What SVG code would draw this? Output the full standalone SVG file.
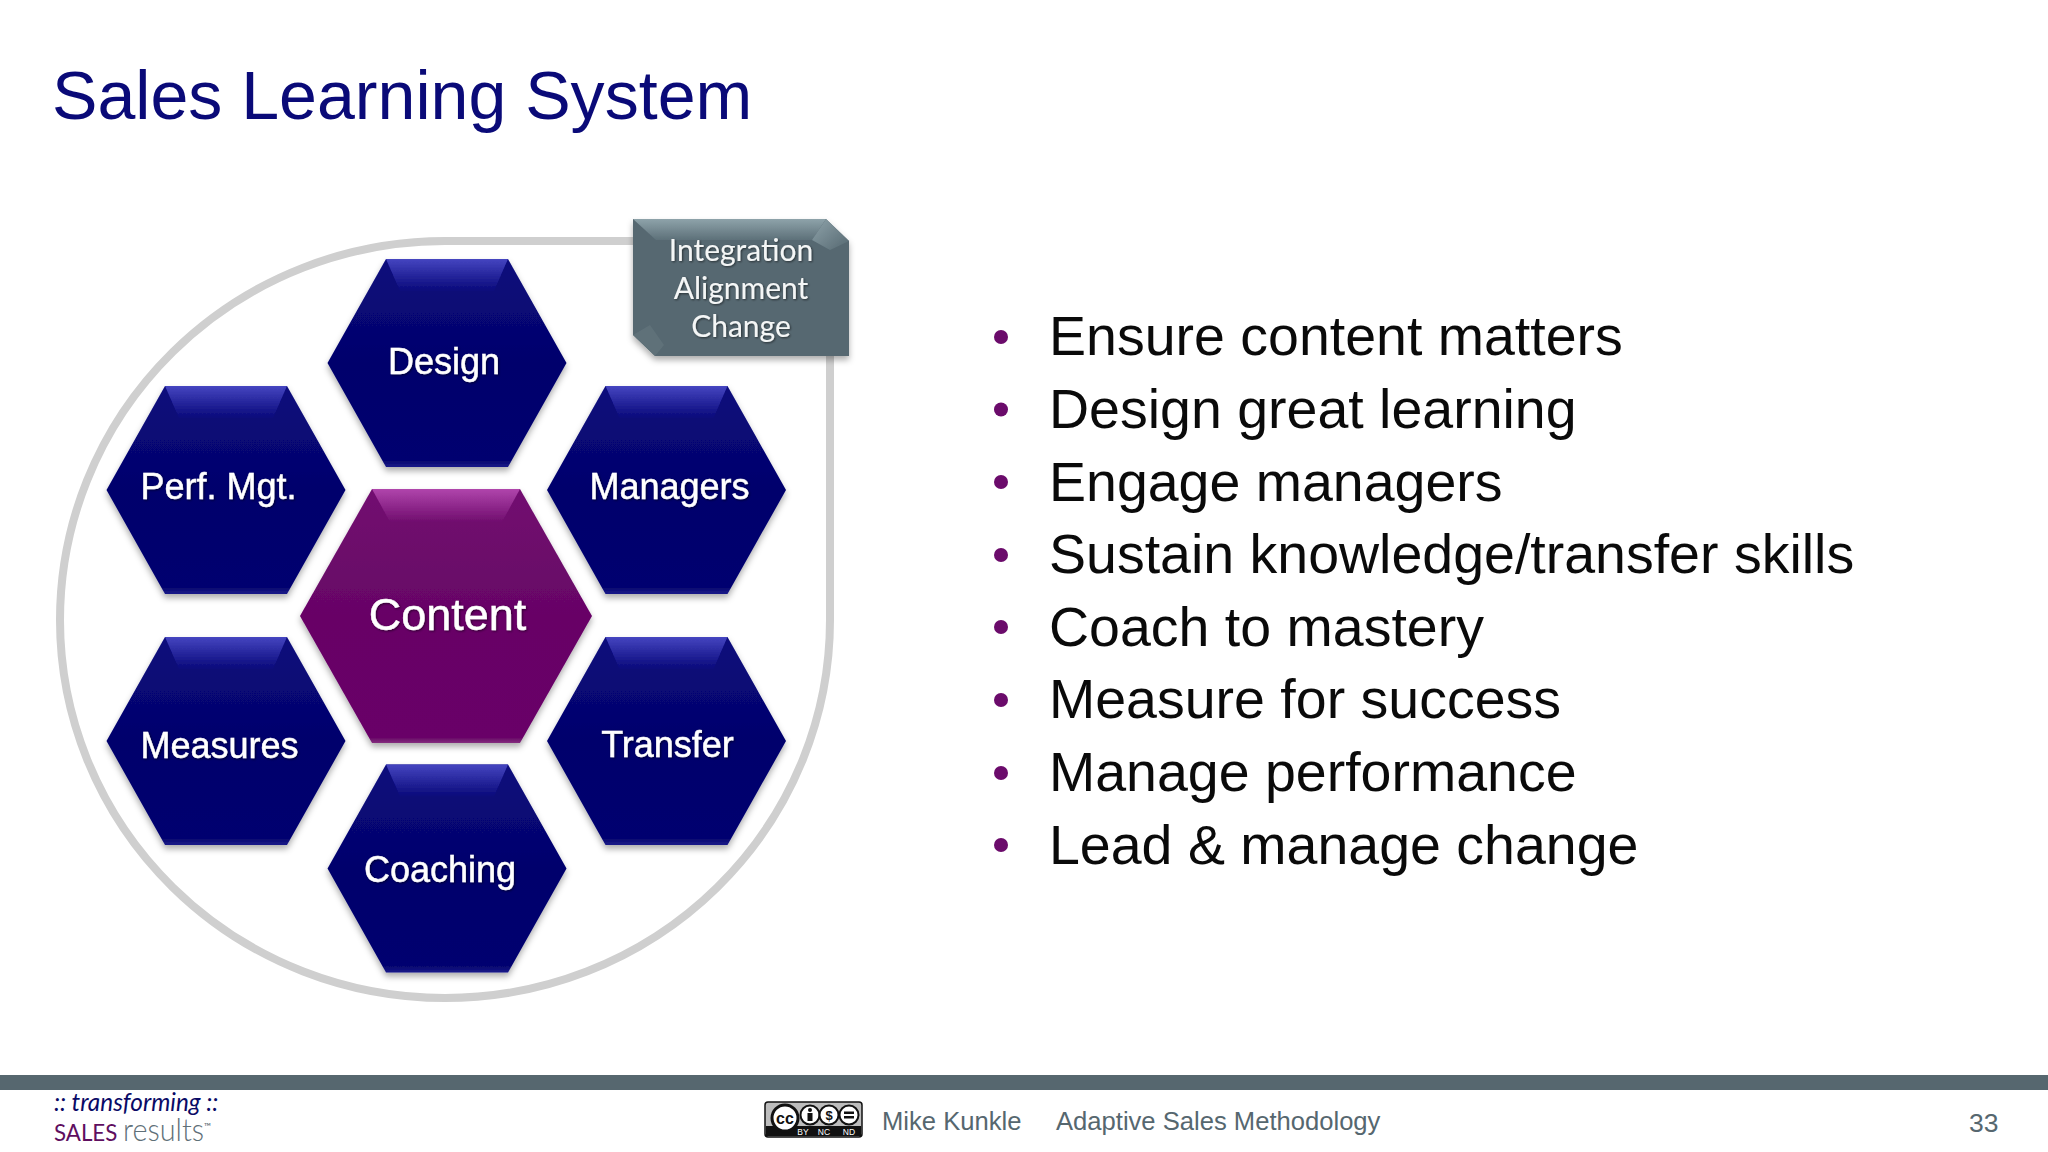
<svg xmlns="http://www.w3.org/2000/svg" xmlns:xlink="http://www.w3.org/1999/xlink" width="2048" height="1152" viewBox="0 0 2048 1152">
<style>
text{font-family:"Liberation Sans",Arial,sans-serif}
.hl{fill:#fff;stroke:#fff;stroke-width:.4px;font-size:36px;text-anchor:middle}
.bul{fill:#0a0a0a;font-size:55.5px}
.dot{fill:#6b0b6b}
.foot{fill:#56676f;font-size:25.6px}
.box{fill:#f4f6f6;font-family:Lato,"Open Sans",sans-serif;font-size:30px;text-anchor:middle}
</style>
<defs>
<linearGradient id="navyBody" x1="0" y1="0" x2="0" y2="1"><stop offset="0" stop-color="#0a0a7c"/><stop offset=".5" stop-color="#04046c"/><stop offset=".97" stop-color="#06066f"/><stop offset="1" stop-color="#1a1a8a"/></linearGradient>
<linearGradient id="navyTop" x1="0" y1="0" x2="0" y2="1"><stop offset="0" stop-color="#4545c0"/><stop offset="1" stop-color="#09097a"/></linearGradient>
<linearGradient id="plumBody" x1="0" y1="0" x2="0" y2="1"><stop offset="0" stop-color="#720e70"/><stop offset=".5" stop-color="#670566"/><stop offset=".98" stop-color="#690667"/><stop offset="1" stop-color="#85307f"/></linearGradient>
<linearGradient id="plumTop" x1="0" y1="0" x2="0" y2="1"><stop offset="0" stop-color="#b045ac"/><stop offset="1" stop-color="#700d6e"/></linearGradient>
<linearGradient id="slateTop" x1="0" y1="0" x2="0" y2="1"><stop offset="0" stop-color="#8ea3aa"/><stop offset="1" stop-color="#5d7079"/></linearGradient>
<linearGradient id="slateRight" x1="0" y1="0" x2="1" y2="1"><stop offset="0" stop-color="#8ea3aa"/><stop offset="1" stop-color="#566871"/></linearGradient>
<filter id="sh" x="-15%" y="-15%" width="130%" height="130%"><feDropShadow dx="0" dy="4" stdDeviation="3" flood-color="#000" flood-opacity=".32"/></filter>
<filter id="ts" x="-10%" y="-20%" width="120%" height="140%"><feDropShadow dx="1" dy="1" stdDeviation=".8" flood-color="#000" flood-opacity=".55"/></filter>
<g id="hexN">
<polygon points="-119.5,0 -61,-104 61,-104 119.5,0 61,104 -61,104" fill="url(#navyBody)"/>
<polygon points="-61,-104 61,-104 47,-72 -47,-72" fill="url(#navyTop)"/>
</g>
<g id="hexP">
<polygon points="-146,0 -74,-127 74,-127 146,0 74,127 -74,127" fill="url(#plumBody)"/>
<polygon points="-74,-127 74,-127 56,-94 -56,-94" fill="url(#plumTop)"/>
</g>
</defs>
<rect width="2048" height="1152" fill="#fff"/>
<text x="52" y="119" font-size="68.1" fill="#0a0a78">Sales Learning System</text>

<g id="connectors">
<path d="M 60 620 A 385 379 0 0 1 445 241 H 830 V 620 A 385 378 0 0 1 445 998 A 385 378 0 0 1 60 620 Z" fill="none" stroke="#cfcfcf" stroke-width="8"/>
</g>

<g id="node-design" filter="url(#sh)"><use href="#hexN" transform="translate(447,363)"/><text class="hl" x="444" y="374" filter="url(#ts)">Design</text></g>
<g id="node-perf" filter="url(#sh)"><use href="#hexN" transform="translate(226,490)"/><text class="hl" x="218.500" y="499" filter="url(#ts)">Perf. Mgt.</text></g>
<g id="node-managers" filter="url(#sh)"><use href="#hexN" transform="translate(666.500,490)"/><text class="hl" x="669.500" y="499" filter="url(#ts)">Managers</text></g>
<g id="node-measures" filter="url(#sh)"><use href="#hexN" transform="translate(226,741)"/><text class="hl" x="219.500" y="758" filter="url(#ts)">Measures</text></g>
<g id="node-transfer" filter="url(#sh)"><use href="#hexN" transform="translate(666.500,741)"/><text class="hl" x="667.500" y="757" filter="url(#ts)">Transfer</text></g>
<g id="node-coaching" filter="url(#sh)"><use href="#hexN" transform="translate(447,868.500)"/><text class="hl" x="440" y="882" filter="url(#ts)">Coaching</text></g>
<g id="node-content" filter="url(#sh)"><use href="#hexP" transform="translate(446,616)"/><text class="hl" x="447.500" y="630" style="font-size:45px" filter="url(#ts)">Content</text></g>

<g id="node-integration" filter="url(#sh)">
<polygon points="633,219 826,219 849,241 849,356 655,356 633,335" fill="#566871"/>
<polygon points="633,219 826,219 812,240 656,240" fill="url(#slateTop)"/>
<polygon points="826,219 849,241 830,250 812,240" fill="url(#slateRight)"/>
<polygon points="633,335 655,356 664,345 650,325" fill="#5f7179"/>
<text class="box" x="741" y="261" filter="url(#ts)">Integration</text>
<text class="box" x="741" y="299" filter="url(#ts)">Alignment</text>
<text class="box" x="741" y="337" filter="url(#ts)">Change</text>
</g>

<g id="bullets">
<circle class="dot" cx="1001" cy="337" r="7"/><text class="bul" x="1049" y="355">Ensure content matters</text>
<circle class="dot" cx="1001" cy="409.500" r="7"/><text class="bul" x="1049" y="428">Design great learning</text>
<circle class="dot" cx="1001" cy="482" r="7"/><text class="bul" x="1049" y="501">Engage managers</text>
<circle class="dot" cx="1001" cy="555" r="7"/><text class="bul" x="1049" y="573">Sustain knowledge/transfer skills</text>
<circle class="dot" cx="1001" cy="627" r="7"/><text class="bul" x="1049" y="646">Coach to mastery</text>
<circle class="dot" cx="1001" cy="700" r="7"/><text class="bul" x="1049" y="718">Measure for success</text>
<circle class="dot" cx="1001" cy="773" r="7"/><text class="bul" x="1049" y="791">Manage performance</text>
<circle class="dot" cx="1001" cy="845" r="7"/><text class="bul" x="1049" y="864">Lead &amp; manage change</text>
</g>

<rect id="footer-bar" x="0" y="1075" width="2048" height="15" fill="#56676f"/>
<g id="logo">
<text x="54" y="1111" font-size="24.3" font-style="italic" fill="#0a0a66" style="font-family:Lato,'Open Sans',sans-serif">:: transforming ::</text>
<text transform="translate(54,1141) scale(.93,1)" font-size="24" fill="#5f0f5f" style="font-family:Lato,'Open Sans',sans-serif">SALES <tspan font-size="31" font-weight="300" fill="#5f7078">results</tspan><tspan font-size="10" dy="-11" fill="#5f7078">™</tspan></text>
</g>
<g id="cc-badge">
<rect x="765" y="1102" width="97" height="35" rx="3" fill="#bdbdbd" stroke="#111" stroke-width="1.500"/>
<rect x="766" y="1126" width="95" height="10" fill="#111"/>
<circle cx="785" cy="1118" r="13" fill="#fff" stroke="#111" stroke-width="3"/>
<text x="785" y="1124" font-size="16" font-weight="700" text-anchor="middle" fill="#111">cc</text>
<circle cx="810" cy="1115" r="9.500" fill="#fff" stroke="#111" stroke-width="2"/>
<circle cx="810" cy="1110" r="2" fill="#111"/><rect x="807.500" y="1113" width="5" height="8" fill="#111"/>
<circle cx="829" cy="1115" r="9.500" fill="#fff" stroke="#111" stroke-width="2"/>
<text x="829" y="1120" font-size="13" font-weight="700" text-anchor="middle" fill="#111">$</text>
<circle cx="849" cy="1115" r="9.500" fill="#fff" stroke="#111" stroke-width="2"/>
<rect x="844" y="1111.500" width="10" height="2.500" fill="#111"/><rect x="844" y="1116" width="10" height="2.500" fill="#111"/>
<text x="803" y="1135" font-size="8.500" text-anchor="middle" fill="#fff">BY</text>
<text x="824" y="1135" font-size="8.500" text-anchor="middle" fill="#fff">NC</text>
<text x="849" y="1135" font-size="8.500" text-anchor="middle" fill="#fff">ND</text>
</g>
<text class="foot" x="882" y="1130">Mike Kunkle</text>
<text class="foot" x="1056" y="1130">Adaptive Sales Methodology</text>
<text class="foot" x="1969" y="1132" style="font-size:26.5px">33</text>
</svg>
